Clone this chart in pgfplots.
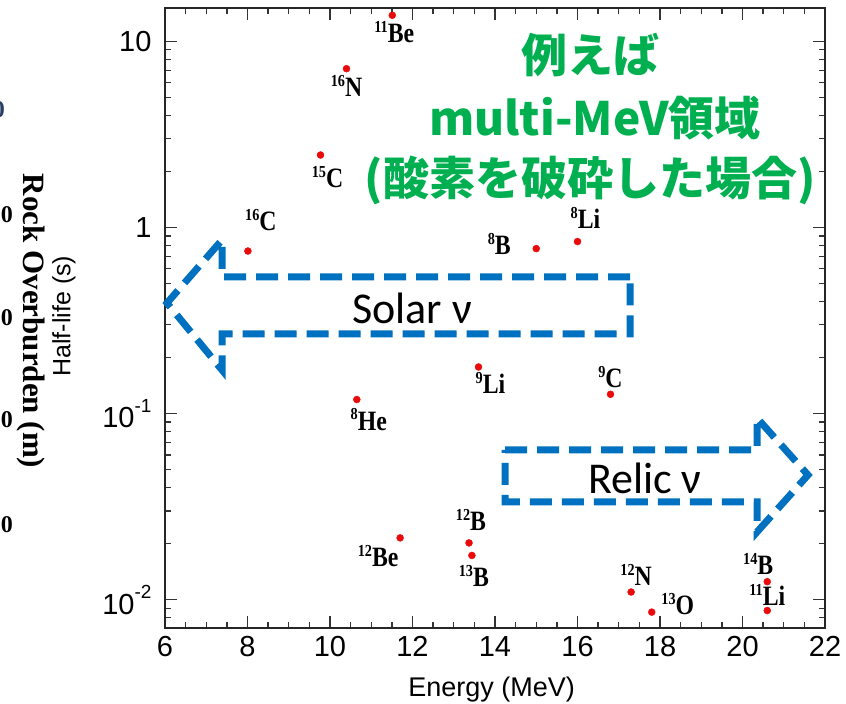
\documentclass[border=0pt]{standalone}
\usepackage{fontspec}
\setmainfont{Liberation Sans}
\newfontfamily\serifb{Liberation Serif}
\newfontfamily\jp{Noto Sans CJK JP}
\newfontfamily\calib{Carlito}
\usepackage{graphicx}
\usepackage{pgfplots}
\pgfplotsset{compat=1.18}

\definecolor{arrowblue}{RGB}{0,112,192}
\definecolor{jpgreen}{RGB}{0,176,80}
\definecolor{ptred}{RGB}{235,10,10}
\definecolor{fragblue}{RGB}{40,60,100}

% isotope label: mass number raised in front of the element symbol
\newcommand{\iso}[2]{\scalebox{0.95}[1.12]{{\fontsize{15}{15}\selectfont\raisebox{0.6em}{#1}}#2}}
% power-of-ten tick label
\newcommand{\pten}[1]{10\raisebox{0.55em}{\fontsize{19}{19}\selectfont #1}}

% isotope, Q value (MeV), half-life (s), label offsets (pt)
\pgfplotstableread{
x      y        sup  el  dx   dy
11.51  13.8     11   Be  2    -17
10.40  7.13     16   N   0    -17
9.77   2.45     15   C   7    -22
8.01   0.747    16   C   13   31
15.00  0.77     8    B   -37  5
16.00  0.84     8    Li  8    24
13.60  0.178    9    Li  12   -16
10.65  0.119    8    He  12   -20
16.80  0.127    9    C   0    17
11.70  0.0215   12   Be  -22  -18
13.37  0.0202   12   B   2    23
13.44  0.0173   13   B   2    -21
17.30  0.0110   12   N   5    17
17.80  0.00858  13   O   26   8
20.60  0.0125   14   B   -9   18
20.60  0.00875  11   Li  0    16
}\isotopes

\begin{document}
\begin{tikzpicture}[x=1pt,y=1pt]
\useasboundingbox (0,0) rectangle (846,704);

% fragments of a neighbouring panel at the left edge
\node[font=\serifb\bfseries\fontsize{31}{34}\selectfont, rotate=-90] at (31,383) {Rock Overburden (m)};
\foreach \yy in {489,386,284,179}
  \node[font=\serifb\bfseries\fontsize{24}{28}\selectfont, anchor=east, inner sep=0] at (13,\yy) {100};
\node[font=\serifb\bfseries\fontsize{24}{28}\selectfont, anchor=east, inner sep=0, text=fragblue] at (5,594) {0};

\begin{axis}[
  at={(165pt,76pt)}, anchor=south west,
  scale only axis, width=660pt, height=620pt,
  xmin=6, xmax=22,
  ymode=log, ymin=0.00705, ymax=15.1,
  xtick={6,8,...,22}, minor x tick num=3,
  ytick={0.01,0.1,1,10},
  yticklabels={\pten{-2},\pten{-1},1,10},
  minor ytick={0.008,0.009,0.02,0.03,0.04,0.05,0.06,0.07,0.08,0.09,
               0.2,0.3,0.4,0.5,0.6,0.7,0.8,0.9,2,3,4,5,6,7,8,9},
  tick pos=both, tick align=inside,
  major tick length=12pt, minor tick length=6pt,
  axis line style={line width=1.8pt, black!85},
  every tick/.style={line width=1.3pt, black!80},
  /pgf/number format/assume math mode=true,
  ticklabel style={font=\fontsize{29}{32}\selectfont},
  xticklabel style={yshift=-5pt},
  yticklabel style={xshift=-10pt},
  xlabel={Energy (MeV)},
  xlabel style={font=\fontsize{27}{30}\selectfont, at={(axis description cs:0.495,-0.1)}, anchor=center},
  ylabel={Half-life (s)},
  ylabel style={font=\fontsize{25}{28}\selectfont, at={(axis description cs:-0.153,0.503)}, anchor=center},
  clip=false,
]
\addplot[only marks, mark=*, mark size=3.5pt, color=ptred,
  point meta=explicit symbolic,
  nodes near coords={\iso{\pgfmathprintnumber[fixed,precision=0]{\supn}}{\pgfplotspointmeta}},
  visualization depends on={\thisrow{sup} \as \supn},
  visualization depends on={\thisrow{dx} \as \dx},
  visualization depends on={\thisrow{dy} \as \dy},
  every node near coord/.append style={anchor=center, inner sep=0pt,
    xshift=\dx pt, yshift=\dy pt, text=black,
    font=\serifb\bfseries\fontsize{25}{28}\selectfont}]
  table[x=x, y=y, meta=el] {\isotopes};
\end{axis}

% energy windows of the solar and relic neutrino searches
\draw[arrowblue, line width=7pt, dash pattern=on 22pt off 10pt, miter limit=10]
  (630,427) -- (222,427) -- (222,464) -- (167,401) -- (222,334) -- (222,370) -- (630,370) -- cycle;
\node[font=\calib\fontsize{44}{48}\selectfont] at (412,396) {Solar ν};

\draw[arrowblue, line width=7pt, dash pattern=on 22pt off 10pt, miter limit=10]
  (505,254) -- (757,254) -- (757,286) -- (808,229) -- (757,172) -- (757,202) -- (505,202) -- cycle;
\node[font=\calib\fontsize{44}{48}\selectfont] at (645,226) {Relic ν};

% annotation
\begin{scope}[every node/.style={text=jpgreen, font=\jp\bfseries\fontsize{46}{50}\selectfont}]
\node at (590,649) {例えば};
\node at (595,586) {multi-MeV領域};
\node at (590,524) {(酸素を破砕した場合)};
\end{scope}
\end{tikzpicture}
\end{document}
